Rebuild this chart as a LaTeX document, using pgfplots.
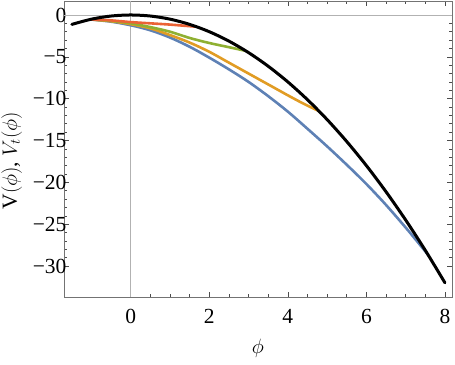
\documentclass[border=0pt]{standalone}
\usepackage{fontspec}
\setmainfont{Liberation Serif}
\usepackage{pgfplots}
\pgfplotsset{compat=1.18}
\definecolor{mblue}{rgb}{0.368417,0.506779,0.709798}
\definecolor{morange}{rgb}{0.880722,0.611041,0.142051}
\definecolor{mgreen}{rgb}{0.560181,0.691569,0.194885}
\definecolor{mred}{rgb}{0.922526,0.385626,0.209179}
\newcommand{\bigf}{\fontsize{21.5}{24}\selectfont}
\begin{document}
\begin{tikzpicture}
\begin{axis}[name=ax, scale only axis, width=388pt, height=296pt,
  xmin=-1.70, xmax=8.18, ymin=-33.7, ymax=1.67,
  xtick={0,2,4,6,8}, xticklabels={0,2,4,6,8},
  ytick={-30,-25,-20,-15,-10,-5,0},
  yticklabels={−30,−25,−20,−15,−10,−5,0},
  minor x tick num=3, minor y tick num=4,
  tick align=inside, major tick length=5pt, minor tick length=3pt,
  axis line style={black!55}, tick style={black!70, line width=0.6pt},
  every axis plot/.append style={line cap=round},
  every tick label/.append style={font=\bigf},
  every axis label/.append style={font=\bigf},
  xticklabel style={yshift=-9pt}, yticklabel style={xshift=6pt},
  extra x ticks={0}, extra x tick labels={},
  extra y ticks={0}, extra y tick labels={},
  extra tick style={grid=major, major grid style={black!30, line width=0.6pt}, major tick length=0pt},
  xlabel={$\phi$}, ylabel={$\mathrm{V}(\phi)$, $V_t(\phi)$},
  xlabel style={yshift=-8pt},
  ylabel style={at={(ticklabel cs:0.46)}, yshift=4pt},
]
\addplot[mblue, line width=2.6pt, smooth] coordinates {
(-1.03,-0.53) (-0.5,-0.8) (0,-1.23) (0.5,-1.83) (1,-2.7) (1.5,-3.8) (2,-5.1) (2.5,-6.5) (3,-8.0) (3.5,-9.7) (4,-11.55) (4.5,-13.6) (5,-15.7) (5.5,-17.9) (6,-20.2) (6.5,-22.7) (7,-25.4) (7.3,-27.1) (7.57,-28.65)};
\addplot[morange, line width=2.6pt, smooth] coordinates {
(-1.03,-0.53) (-0.5,-0.75) (0,-1.1) (0.5,-1.6) (1,-2.4) (1.5,-3.3) (2,-4.4) (2.5,-5.7) (3,-7.0) (3.5,-8.3) (4,-9.6) (4.4,-10.6) (4.8,-11.5)};
\addplot[mgreen, line width=2.6pt, smooth] coordinates {
(-1.03,-0.53) (-0.5,-0.7) (0,-1.0) (0.5,-1.45) (1,-2.0) (1.5,-2.75) (2,-3.35) (2.5,-3.85) (2.93,-4.29)};
\addplot[mred, line width=2.6pt, smooth] coordinates {
(-1.03,-0.53) (-0.5,-0.65) (0,-0.85) (0.5,-1.0) (1,-1.15) (1.68,-1.41)};
\addplot[black, line width=3pt, smooth] coordinates {
(-1.5,-1.125) (-1,-0.5) (-0.5,-0.125) (0,0) (0.5,-0.125) (1,-0.5) (1.5,-1.125) (2,-2) (2.5,-3.125) (3,-4.5) (3.5,-6.125) (4,-8) (4.5,-10.125) (5,-12.5) (5.5,-15.125) (6,-18) (6.5,-21.125) (7,-24.5) (7.5,-28.125) (8,-32)};
\end{axis}
\pgfresetboundingbox
\path[use as bounding box] ([xshift=-64pt,yshift=-67pt]ax.south west) rectangle ([xshift=3pt,yshift=1pt]ax.north east);
\end{tikzpicture}
\end{document}
